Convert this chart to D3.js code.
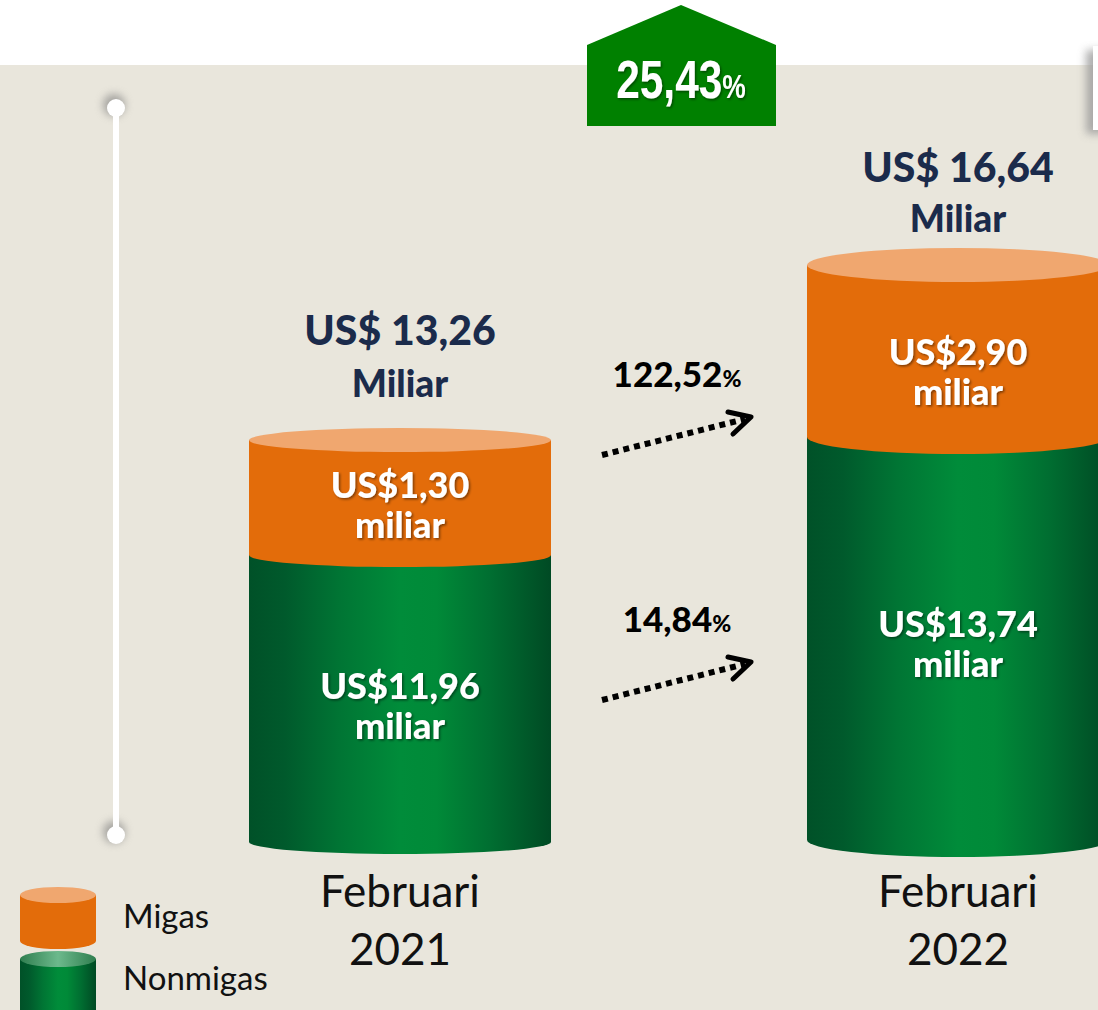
<!DOCTYPE html>
<html><head><meta charset="utf-8">
<script src="https://cdn.jsdelivr.net/npm/d3@7"></script>
<style>html,body{margin:0;padding:0;background:#fff;}svg{display:block;}</style>
</head><body>
<script>
// ---- data ----
const categories = ["Februari 2021", "Februari 2022"];
const categoryLines = [["Februari", "2021"], ["Februari", "2022"]];
const migas = [1.30, 2.90];
const nonmigas = [11.96, 13.74];
const totals = [13.26, 16.64];
const growthTotal = 25.43;
const growthMigas = 122.52;
const growthNonmigas = 14.84;
const legendLabels = ["Migas", "Nonmigas"];

const W = 1098, H = 1010;
const fmt = v => d3.format(".2f")(v).replace(".", ",");
const svg = d3.select("body").append("svg").attr("width", W).attr("height", H);
const defs = svg.append("defs");

const g1 = defs.append("linearGradient").attr("id", "gGreen").attr("x1", 0).attr("x2", 1).attr("y1", 0).attr("y2", 0);
[[0, "#005128"], [0.12, "#005a2c"], [0.3, "#007534"], [0.5, "#008c3a"], [0.62, "#008a38"], [0.8, "#006e31"], [1, "#004a24"]]
  .forEach(([o, c]) => g1.append("stop").attr("offset", o).attr("stop-color", c));
const g2 = defs.append("linearGradient").attr("id", "gGreenTop").attr("x1", 0).attr("x2", 1).attr("y1", 0).attr("y2", 0);
[[0, "#2f7e4f"], [0.5, "#6cb98c"], [1, "#2f7e4f"]].forEach(([o, c]) => g2.append("stop").attr("offset", o).attr("stop-color", c));

const sh = defs.append("filter").attr("id", "tshadow").attr("x", "-10%").attr("y", "-20%").attr("width", "130%").attr("height", "150%");
sh.append("feDropShadow").attr("dx", 1.5).attr("dy", 1.5).attr("stdDeviation", 1).attr("flood-color", "#000").attr("flood-opacity", 0.45);
const bs = defs.append("filter").attr("id", "blur").attr("x", "-50%").attr("y", "-50%").attr("width", "200%").attr("height", "200%");
bs.append("feGaussianBlur").attr("stdDeviation", 4);

// background
svg.append("rect").attr("x", 0).attr("y", 0).attr("width", W).attr("height", H).attr("fill", "#ffffff");
svg.append("rect").attr("x", 0).attr("y", 65).attr("width", W).attr("height", H - 65).attr("fill", "#e9e6dc");

// top-right box with shadow
svg.append("rect").attr("x", 1086).attr("y", 50).attr("width", 40).attr("height", 84).attr("fill", "#9a9a9a").attr("filter", "url(#blur)").attr("opacity", 0.8);
svg.append("rect").attr("x", 1093).attr("y", 46).attr("width", 20).attr("height", 84).attr("fill", "#ffffff");

// vertical line decoration
const vl = svg.append("g");
vl.append("line").attr("x1", 116).attr("x2", 116).attr("y1", 108).attr("y2", 835).attr("stroke", "#bdbab2").attr("stroke-width", 9).attr("filter", "url(#blur)").attr("opacity", 0.5);
[108, 835].forEach(y => vl.append("circle").attr("cx", 114).attr("cy", y - 3).attr("r", 11).attr("fill", "#777").attr("filter", "url(#blur)").attr("opacity", 0.6));
vl.append("line").attr("x1", 116).attr("x2", 116).attr("y1", 108).attr("y2", 835).attr("stroke", "#ffffff").attr("stroke-width", 6);
[108, 835].forEach(y => vl.append("circle").attr("cx", 116).attr("cy", y).attr("r", 9).attr("fill", "#ffffff"));

// scales
const x = d3.scalePoint().domain(categories).range([400, 958]);
const baseY = d3.scaleOrdinal().domain(categories).range([842, 840]);
const hTotal = d3.scaleLinear().domain([5.41, 16.64]).range([0, 575]);
const hMigas = d3.scaleLinear().domain([-1.93, 2.90]).range([0, 172]);
const rx = 151;
const ry = d3.scaleLinear().domain([13.26, 16.64]).range([12, 17]);

const cyl = categories.map((c, i) => {
  const cx = x(c);
  const base = baseY(c);
  const top = base - hTotal(totals[i]);
  const mid = top + hMigas(migas[i]);
  return {c, i, cx, base, top, mid, ry: ry(totals[i])};
});

const gc = svg.append("g");
cyl.forEach(d => {
  const x0 = d.cx - rx, x1 = d.cx + rx;
  gc.append("path").attr("d", `M${x0},${d.mid} L${x0},${d.base} A${rx},${d.ry} 0 0 0 ${x1},${d.base} L${x1},${d.mid} Z`).attr("fill", "url(#gGreen)");
  gc.append("path").attr("d", `M${x0},${d.top} L${x0},${d.mid} A${rx},${d.ry} 0 0 0 ${x1},${d.mid} L${x1},${d.top} Z`).attr("fill", "#e36c0a");
  gc.append("ellipse").attr("cx", d.cx).attr("cy", d.top).attr("rx", rx).attr("ry", d.ry).attr("fill", "#f0a76f");
});

const sans = "Lato, 'Open Sans', sans-serif";
const segLabel = (cx, y, txt) => {
  const t = svg.append("text").attr("text-anchor", "middle").attr("fill", "#fff")
    .attr("font-family", sans).attr("font-weight", 900).attr("font-size", 36).attr("filter", "url(#tshadow)");
  t.append("tspan").attr("x", cx).attr("y", y).text(txt);
  t.append("tspan").attr("x", cx).attr("y", y + 40).text("miliar");
};
cyl.forEach(d => {
  segLabel(d.cx, (d.top + d.mid) / 2 + (d.i === 0 ? 0 : 14), "US$" + fmt(migas[d.i]));
  segLabel(d.cx, (d.mid + d.base) / 2 + (d.i === 0 ? 0 : -2), "US$" + fmt(nonmigas[d.i]));
  const tt = svg.append("text").attr("text-anchor", "middle").attr("fill", "#1b2b4b").attr("font-family", sans).attr("font-weight", 900);
  tt.append("tspan").attr("x", d.cx).attr("y", d.top - 95 + 12 * d.i).attr("font-size", 41).text("US$ " + fmt(totals[d.i]));
  tt.append("tspan").attr("x", d.cx).attr("y", d.top - 43 + 10 * d.i).attr("font-size", 37).text("Miliar");
  const cl = svg.append("text").attr("text-anchor", "middle").attr("fill", "#111").attr("font-family", sans).attr("font-size", 44);
  cl.append("tspan").attr("x", d.cx).attr("y", 907).text(categoryLines[d.i][0]);
  cl.append("tspan").attr("x", d.cx).attr("y", 965).text(categoryLines[d.i][1]);
});

// growth arrows
const arrow = (y0, label) => {
  const ga = svg.append("g");
  ga.append("line").attr("x1", 602).attr("y1", y0).attr("x2", 745).attr("y2", y0 - 36)
    .attr("stroke", "#000").attr("stroke-width", 6).attr("stroke-dasharray", "6,5");
  ga.append("path").attr("d", `M728,${y0 - 43} L751,${y0 - 38} L733,${y0 - 21}`).attr("fill", "none")
    .attr("stroke", "#000").attr("stroke-width", 5).attr("stroke-linecap", "round").attr("stroke-linejoin", "round");
  const t = ga.append("text").attr("x", 677).attr("y", y0 - 68).attr("text-anchor", "middle").attr("fill", "#000")
    .attr("font-family", sans).attr("font-weight", 900).attr("font-size", 35);
  t.append("tspan").text(fmt(label));
  t.append("tspan").attr("font-size", 23).text("%");
};
arrow(455, growthMigas);
arrow(700, growthNonmigas);

// badge
const bx0 = 587, bx1 = 776, bcx = 681;
svg.append("path").attr("d", `M${bx0},45 L${bcx},5 L${bx1},45 L${bx1},126 L${bx0},126 Z`).attr("fill", "#008000");
const bt = svg.append("text").attr("x", 0).attr("y", 0).attr("text-anchor", "middle").attr("fill", "#fff")
  .attr("transform", `translate(${bcx},98) scale(0.8,1)`)
  .attr("font-family", "'Liberation Sans Narrow', 'Liberation Sans', Arial, sans-serif").attr("font-weight", 700).attr("font-size", 53)
  .attr("filter", "url(#tshadow)");
bt.append("tspan").text(fmt(growthTotal));
bt.append("tspan").attr("font-size", 33).text("%");

// legend
const lg = svg.append("g");
const legendCyl = (yTop, yBot, body, topFill) => {
  lg.append("path").attr("d", `M20,${yTop} L20,${yBot} A38,8 0 0 0 96,${yBot} L96,${yTop} Z`).attr("fill", body);
  lg.append("ellipse").attr("cx", 58).attr("cy", yTop).attr("rx", 38).attr("ry", 8).attr("fill", topFill);
};
legendCyl(895, 941, "#e36c0a", "#f0a76f");
legendCyl(959, 1015, "url(#gGreen)", "url(#gGreenTop)");
legendLabels.forEach((l, i) => lg.append("text").attr("x", 123).attr("y", 928 + i * 62).attr("fill", "#111")
  .attr("font-family", sans).attr("font-size", 33).text(l));
</script>
</body></html>
